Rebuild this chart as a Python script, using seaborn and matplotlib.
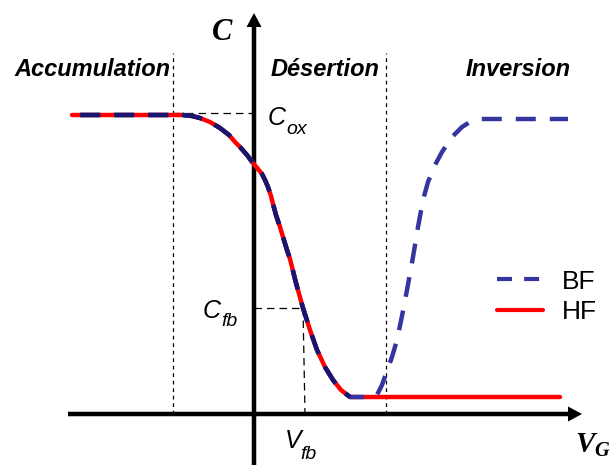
# -*- coding: utf-8 -*-
# Courbes C-V d'une capacité MOS : basse fréquence (BF) et haute fréquence (HF)

import numpy as np
import pandas as pd
import matplotlib
matplotlib.use('Agg')
import matplotlib.pyplot as plt
from matplotlib.lines import Line2D
import seaborn as sns

# ---------------------------------------------------------------------------
# Données (unités arbitraires, origine au croisement des axes)
# ---------------------------------------------------------------------------

# partie commune BF / HF (accumulation -> désertion)
v_commun = [-182, -81, -71, -62, -54, -44, -34, -25, -19, -14, -7, -1, 4, 8, 11,
            14, 17, 19, 22, 26, 29, 33, 36, 42, 49, 56, 63, 71, 79, 87, 96]
c_commun = [299, 299, 299, 298, 296, 292, 286, 279, 272, 267, 259, 251, 245, 240, 234,
            227, 218, 210, 199, 187, 177, 164, 155, 131, 106, 84, 64, 47, 34, 24, 17]

# fin de la courbe HF (plateau en inversion)
v_hf_fin = [306]
c_hf_fin = [17]

# fin de la courbe BF (remontée en inversion)
v_bf_fin = [118, 123, 128, 133, 138, 143, 148, 153, 159, 164, 169, 174, 181, 188,
            198, 208, 216, 226, 314]
c_bf_fin = [17, 19, 29, 43, 57, 74, 98, 124, 157, 187, 214, 232, 249, 262,
            277, 287, 292, 295, 295]

# points remarquables
c_ox = 301
v_fb, c_fb = 49, 106
v_fb_axe = 51
limites_regions = [-81, 132]

regions = ['Accumulation', 'Désertion', 'Inversion']
pos_regions = [-162, 71, 264]

df_hf = pd.DataFrame({'V': v_commun + v_hf_fin, 'C': c_commun + c_hf_fin})
df_bf = pd.DataFrame({'V': v_commun + v_bf_fin, 'C': c_commun + c_bf_fin})
df_commun = pd.DataFrame({'V': v_commun, 'C': c_commun})

# ---------------------------------------------------------------------------
# Style
# ---------------------------------------------------------------------------
sns.set_style('white')
plt.rcParams['font.family'] = ['Liberation Sans', 'DejaVu Sans']
plt.rcParams['text.color'] = 'black'
plt.rcParams['mathtext.fontset'] = 'custom'
plt.rcParams['mathtext.bf'] = 'Liberation Serif:italic:bold'

rouge = '#ff0000'
bleu = '#3535a0'
bleu_fonce = '#16166e'
tirets = (5.8, (4.5, 3.15))

fig = plt.figure(figsize=(6.15, 4.65), dpi=100)
ax = fig.add_axes([0, 0, 1, 1])
ax.set_xlim(-254, 361)
ax.set_ylim(-51, 414)
ax.set_axis_off()

# axes avec flèches
ax.arrow(-186, 0, 514, 0, width=4.5, head_width=15, head_length=14,
         length_includes_head=True, color='black', lw=0, zorder=2)
ax.arrow(0, -51, 0, 452, width=4.5, head_width=15, head_length=14,
         length_includes_head=True, color='black', lw=0, zorder=2)

# limites des régions (pointillés)
for v in limites_regions:
    ax.plot([v, v], [0, 361], color='black', lw=0.9, linestyle=(0, (3, 3)), zorder=1)

# repères Cox, Cfb, Vfb
ax.plot([limites_regions[0], 0], [c_ox, c_ox], color='black', lw=0.9,
        linestyle=(0, (6, 4)), zorder=1)
ax.plot([0, v_fb], [c_fb, c_fb], color='black', lw=0.9, linestyle=(0, (6, 4)), zorder=1)
ax.plot([v_fb, v_fb_axe], [c_fb, 0], color='black', lw=0.9, linestyle=(0, (6, 4)), zorder=1)

# courbes
sns.lineplot(data=df_hf, x='V', y='C', ax=ax, color=rouge, lw=3.2,
             sort=False, estimator=None, zorder=3)
sns.lineplot(data=df_bf, x='V', y='C', ax=ax, color=bleu, lw=3.2, linestyle=tirets,
             sort=False, estimator=None, zorder=4)
sns.lineplot(data=df_commun, x='V', y='C', ax=ax, color=bleu_fonce, lw=3.2,
             linestyle=tirets, sort=False, estimator=None, zorder=5)

# textes
for nom, pos in zip(regions, pos_regions):
    ax.text(pos, 344, nom, ha='center', va='center', fontsize=17,
            fontweight='bold', fontstyle='italic')

ax.text(-32, 381, 'C', ha='center', va='center', fontsize=22, fontweight='bold',
        fontstyle='italic', family='Liberation Serif')
ax.text(321, -38, r'$\mathbf{V}_{\mathbf{G}}$', ha='left', va='baseline', fontsize=21)

# C_ox, C_fb, V_fb : lettre + indice
ax.text(14, 289, 'C', ha='left', va='baseline', fontsize=18, fontstyle='italic')
ax.text(32, 280, 'ox', ha='left', va='baseline', fontsize=14, fontstyle='italic')
ax.text(-51, 96, 'C', ha='left', va='baseline', fontsize=18, fontstyle='italic')
ax.text(-33, 88, 'fb', ha='left', va='baseline', fontsize=14, fontstyle='italic')
ax.text(31, -34, 'V', ha='left', va='baseline', fontsize=18, fontstyle='italic')
ax.text(46, -45, 'fb', ha='left', va='baseline', fontsize=14, fontstyle='italic')

# légende
poignees = [Line2D([], [], color=bleu, lw=3.0, linestyle=(0, (3.6, 2.9))),
            Line2D([], [], color=rouge, lw=3.0)]
ax.legend(poignees, ['BF', 'HF'],
          loc='upper left', bbox_to_anchor=(0.808, 0.42), frameon=False,
          fontsize=19, handlelength=1.75, handletextpad=0.72, labelspacing=0.24,
          borderpad=0, borderaxespad=0)

plt.savefig('out.png', dpi=100)
